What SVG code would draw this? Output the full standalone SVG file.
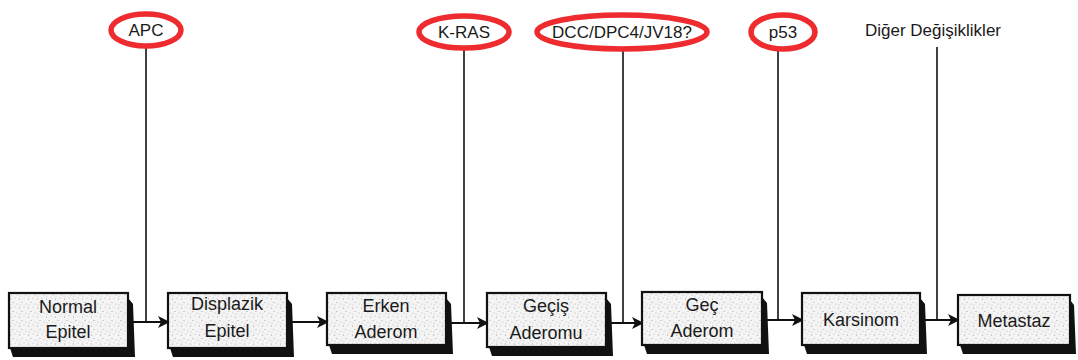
<svg xmlns="http://www.w3.org/2000/svg" width="1078" height="360" viewBox="0 0 1078 360">
<defs>
<pattern id="speck" width="9" height="9" patternUnits="userSpaceOnUse">
<rect width="9" height="9" fill="#f4f4f4"/>
<circle cx="1.5" cy="2" r="0.6" fill="#9a9a9a"/>
<circle cx="6" cy="1" r="0.5" fill="#b0b0b0"/>
<circle cx="4" cy="5.5" r="0.6" fill="#a0a0a0"/>
<circle cx="8" cy="7" r="0.5" fill="#aaaaaa"/>
<circle cx="2" cy="8" r="0.5" fill="#b5b5b5"/>
</pattern>
<marker id="ah" viewBox="0 0 12 12" refX="11" refY="6" markerWidth="12" markerHeight="12" markerUnits="userSpaceOnUse" orient="auto">
<path d="M0,0 L12,6 L0,12 L3,6 Z" fill="#111"/>
</marker>
</defs>
<style>
.box{fill:url(#speck);stroke:#111;stroke-width:2.2}
.sh{fill:#111}
.t{font-family:"Liberation Sans",Arial,sans-serif;font-size:18px;fill:#1a1a1a;text-anchor:middle}
.lab{font-family:"Liberation Sans",Arial,sans-serif;font-size:17px;fill:#1a1a1a;text-anchor:middle}
.ring{fill:none;stroke:#ee2b2f;stroke-width:5.5}
.ln{stroke:#111;stroke-width:1.6;fill:none}
.ar{stroke:#111;stroke-width:2;fill:none;marker-end:url(#ah)}
</style>
<rect width="1078" height="360" fill="#fff"/>

<g id="connectors">
<line class="ln" x1="146" y1="47" x2="146" y2="322"/>
<line class="ln" x1="464" y1="48" x2="464" y2="323"/>
<line class="ln" x1="623" y1="49" x2="623" y2="323"/>
<line class="ln" x1="778" y1="49" x2="778" y2="320"/>
<line class="ln" x1="937" y1="47" x2="937" y2="320"/>
<line class="ar" x1="129" y1="322" x2="169" y2="322"/>
<line class="ar" x1="288" y1="322" x2="328" y2="322"/>
<line class="ar" x1="447" y1="323" x2="488" y2="323"/>
<line class="ar" x1="607" y1="323" x2="643" y2="323"/>
<line class="ar" x1="763" y1="320" x2="803" y2="320"/>
<line class="ar" x1="921" y1="320" x2="959" y2="320"/>
</g>

<g id="apc"><ellipse class="ring" cx="146" cy="30" rx="35" ry="16"/><text class="lab" x="146" y="36">APC</text></g>
<g id="kras"><ellipse class="ring" cx="464" cy="32" rx="45" ry="16"/><text class="lab" x="464" y="38">K-RAS</text></g>
<g id="dcc"><ellipse class="ring" cx="622" cy="32" rx="85" ry="17"/><text class="lab" x="622" y="38">DCC/DPC4/JV18?</text></g>
<g id="p53"><ellipse class="ring" cx="783" cy="32" rx="32" ry="17"/><text class="lab" x="783" y="38">p53</text></g>
<g id="diger"><text class="lab" x="933" y="36">Diğer Değişiklikler</text></g>

<g id="n1"><polygon class="sh" points="10,348 128,348 128,298 133,304 135,357 13,357"/><rect class="box" x="9" y="293" width="119" height="55"/><text class="t" x="68" y="313">Normal</text><text class="t" x="68" y="338">Epitel</text></g>
<g id="n2"><polygon class="sh" points="170,348 287,348 287,298 292,304 294,357 173,357"/><rect class="box" x="168" y="293" width="119" height="55"/><text class="t" x="227" y="310">Displazik</text><text class="t" x="227" y="337">Epitel</text></g>
<g id="n3"><polygon class="sh" points="329,345 446,345 446,298 451,304 453,354 332,354"/><rect class="box" x="327" y="293" width="119" height="52"/><text class="t" x="386" y="312">Erken</text><text class="t" x="386" y="338">Aderom</text></g>
<g id="n4"><polygon class="sh" points="489,347 606,347 606,298 611,304 613,356 492,356"/><rect class="box" x="487" y="293" width="119" height="54"/><text class="t" x="546" y="312">Geçiş</text><text class="t" x="546" y="339">Aderomu</text></g>
<g id="n5"><polygon class="sh" points="644,345 762,345 762,297 767,303 769,354 647,354"/><rect class="box" x="642" y="292" width="120" height="53"/><text class="t" x="702" y="311">Geç</text><text class="t" x="702" y="337">Aderom</text></g>
<g id="n6"><polygon class="sh" points="804,345 920,345 920,298 925,304 927,354 807,354"/><rect class="box" x="802" y="293" width="118" height="52"/><text class="t" x="861" y="326">Karsinom</text></g>
<g id="n7"><polygon class="sh" points="960,345 1070,345 1070,300 1074,305 1076,354 963,354"/><rect class="box" x="958" y="295" width="112" height="50"/><text class="t" x="1014" y="327">Metastaz</text></g>
</svg>
